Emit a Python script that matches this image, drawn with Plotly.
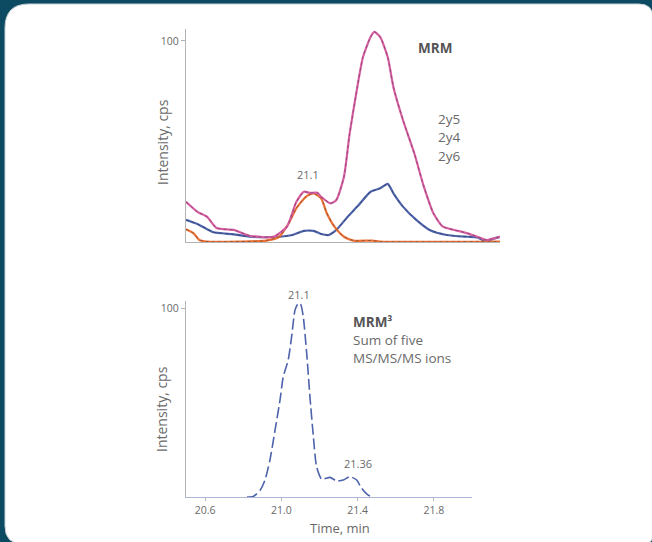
import plotly.graph_objects as go

# ---------------- data ----------------
# Top panel: MRM transitions (relative intensity)
t_2y5 = [20.44, 20.50, 20.55, 20.60, 20.69, 20.78, 20.90, 20.97, 21.02, 21.06, 21.09,
         21.13, 21.15, 21.20, 21.23, 21.27, 21.30, 21.34, 21.37, 21.41, 21.43, 21.46,
         21.50, 21.53, 21.58, 21.64, 21.69, 21.74, 21.79, 21.85, 21.92, 21.97, 22.02,
         22.06, 22.09]
i_2y5 = [20, 15, 12.6, 7, 6, 3, 2.6, 7.6, 20, 25, 24.4,
         24.5, 22.5, 19.2, 20.9, 32.5, 54, 77, 92, 102, 104.5, 102,
         92, 77, 60.7, 44, 27.5, 14.3, 7.6, 6, 4.3, 2.6, 1,
         1.8, 2.6]

t_2y4 = [20.44, 20.51, 20.58, 20.69, 20.78, 20.93, 21.00, 21.06, 21.11, 21.15, 21.19,
         21.23, 21.29, 21.34, 21.41, 21.46, 21.50, 21.53, 21.58, 21.65, 21.72, 21.81,
         21.92, 21.97, 22.02, 22.06, 22.09]
i_2y4 = [11, 8.5, 5, 3.8, 2.6, 2.6, 3.5, 5.5, 5.5, 4, 3.5,
         6, 12.6, 17.6, 25, 26.7, 28.9, 24.2, 17.6, 11, 6, 3.5,
         2.6, 2.3, 0.2, 1.8, 2.6]

t_2y6 = [20.44, 20.48, 20.51, 20.55, 20.72, 20.86, 20.93, 20.98, 21.02, 21.07, 21.11,
         21.15, 21.18, 21.22, 21.27, 21.32, 21.42, 21.46, 22.09]
i_2y6 = [6.3, 4.3, 1, 0.2, 0.2, 0.7, 2.6, 9.3, 16.8, 22.5, 24.2,
         21.7, 14.3, 7.6, 2.6, 0.7, 0.7, 0.2, 0.2]

# Bottom panel: MRM3, sum of five MS/MS/MS ions (baseline elsewhere)
t_mrm3 = [20.82, 20.853, 20.888, 20.914, 20.940, 20.967, 20.993, 21.010, 21.036, 21.054,
          21.072, 21.089, 21.101, 21.115, 21.133, 21.150, 21.168, 21.185, 21.212,
          21.255, 21.290, 21.325, 21.360, 21.395, 21.421, 21.456, 21.482]
i_mrm3 = [0, 0.3, 3.5, 8.9, 19.5, 35.4, 51.3, 63.7, 72.6, 85,
          99.2, 102.7, 102.3, 95.6, 76.2, 53.2, 32, 16, 9.4,
          10.4, 8.5, 9, 10.8, 9, 4.6, 1, 0]

x_ticks = [20.6, 21.0, 21.4, 21.8]
x_tick_text = ["20.6", "21.0", "21.4", "21.8"]
y_ticks = [100]

# ---------------- styling ----------------
W, H = 652, 542
TEAL = "#0d4b62"
AXIS = "#b3b3b3"
TXT = "#6a6a6a"
FONT = "Open Sans"

PINK = "#d95fa3"
BLUE = "#4d63ab"
ORANGE = "#ee7236"


def px(x):
    return x / W


def py(y):
    return 1 - y / H


fig = go.Figure()

# top traces: coloured line with a dark dashed core
for t, i, c in [(t_2y4, i_2y4, BLUE), (t_2y6, i_2y6, ORANGE), (t_2y5, i_2y5, PINK)]:
    fig.add_trace(go.Scatter(x=t, y=i, mode="lines", line=dict(color=c, width=2.2, shape="spline", smoothing=0.6),
                             xaxis="x", yaxis="y", showlegend=False, hoverinfo="skip"))
    fig.add_trace(go.Scatter(x=t, y=i, mode="lines",
                             line=dict(color="rgba(30,30,40,0.55)", width=0.7, dash="3px,3px", shape="spline", smoothing=0.6),
                             xaxis="x", yaxis="y", showlegend=False, hoverinfo="skip"))

fig.add_trace(go.Scatter(x=t_mrm3, y=i_mrm3, mode="lines",
                         line=dict(color=BLUE, width=1.6, dash="11px,4px", shape="spline", smoothing=0.6),
                         xaxis="x2", yaxis="y2", showlegend=False, hoverinfo="skip"))

# white rounded card
L, T, R, B = 5, 4, 653, 544
r1, r2, r3, r4 = 24, 14, 10, 18
path = (f"M {px(L + r1)},{py(T)} L {px(R - r2)},{py(T)} Q {px(R)},{py(T)} {px(R)},{py(T + r2)} "
        f"L {px(R)},{py(B - r3)} Q {px(R)},{py(B)} {px(R - r3)},{py(B)} "
        f"L {px(L + r4)},{py(B)} Q {px(L)},{py(B)} {px(L)},{py(B - r4)} "
        f"L {px(L)},{py(T + r1)} Q {px(L)},{py(T)} {px(L + r1)},{py(T)} Z")
shapes = [dict(type="path", path=path, xref="paper", yref="paper", fillcolor="white",
               line=dict(color="#c9d2d6", width=1), layer="below")]

axis_common = dict(showgrid=False, zeroline=False, showline=True, linecolor=AXIS, linewidth=1.3,
                   ticks="outside", ticklen=4, tickcolor=AXIS, tickwidth=1,
                   tickfont=dict(family=FONT, size=10.5, color=TXT))

fig.update_layout(
    width=W, height=H,
    margin=dict(l=0, r=0, t=0, b=0),
    paper_bgcolor=TEAL, plot_bgcolor="rgba(0,0,0,0)",
    font=dict(family=FONT, color=TXT),
    shapes=shapes,
    xaxis=dict(domain=[px(186), px(500)], range=[20.44, 22.09], anchor="y",
               showticklabels=False, **{**axis_common, "ticks": ""}),
    yaxis=dict(domain=[py(242), py(28.9)], range=[0, 106], anchor="x",
               tickvals=y_ticks, **axis_common),
    xaxis2=dict(domain=[px(186), px(472)], range=[20.5, 22.0], anchor="y2",
                tickvals=x_ticks, ticktext=x_tick_text,
                **{**axis_common, "linecolor": "#b0b5d6", "tickcolor": "#b8b8b8", "ticklen": 3}),
    yaxis2=dict(domain=[py(497), py(300.8)], range=[0, 104], anchor="x2",
                tickvals=y_ticks, **axis_common),
)

ann = []


def add_text(x, y, text, size=13, bold=False, xanchor="center", angle=0, color=TXT):
    ann.append(dict(x=px(x), y=py(y), xref="paper", yref="paper", text=f"<b>{text}</b>" if bold else text,
                    showarrow=False, xanchor=xanchor, yanchor="middle", textangle=angle,
                    font=dict(family=FONT, size=size, color=color)))


add_text(162, 142, "Intensity, cps", size=14, angle=-90)
add_text(161, 409, "Intensity, cps", size=14, angle=-90)
add_text(339.5, 528, "Time, min", size=13)

add_text(435, 48, "MRM", size=13.5, bold=True, color="#555555")
add_text(449, 119, "2y5", size=13.5)
add_text(449, 137, "2y4", size=13.5)
add_text(449, 156, "2y6", size=13.5)
add_text(307.5, 174, "21.1", size=11)

add_text(299, 294, "21.1", size=11)
add_text(358, 463, "21.36", size=11)
add_text(351, 322, "MRM³", size=13.5, bold=True, xanchor="left", color="#555555")
add_text(351, 340, "Sum of five", size=13.5, xanchor="left")
add_text(351, 358, "MS/MS/MS ions", size=13.5, xanchor="left")

fig.update_layout(annotations=ann)

fig.write_html("out.html", config={"displayModeBar": False},
               post_script="document.body.style.margin='0';document.body.style.overflow='hidden';"
                           "document.body.style.background='" + TEAL + "';")
